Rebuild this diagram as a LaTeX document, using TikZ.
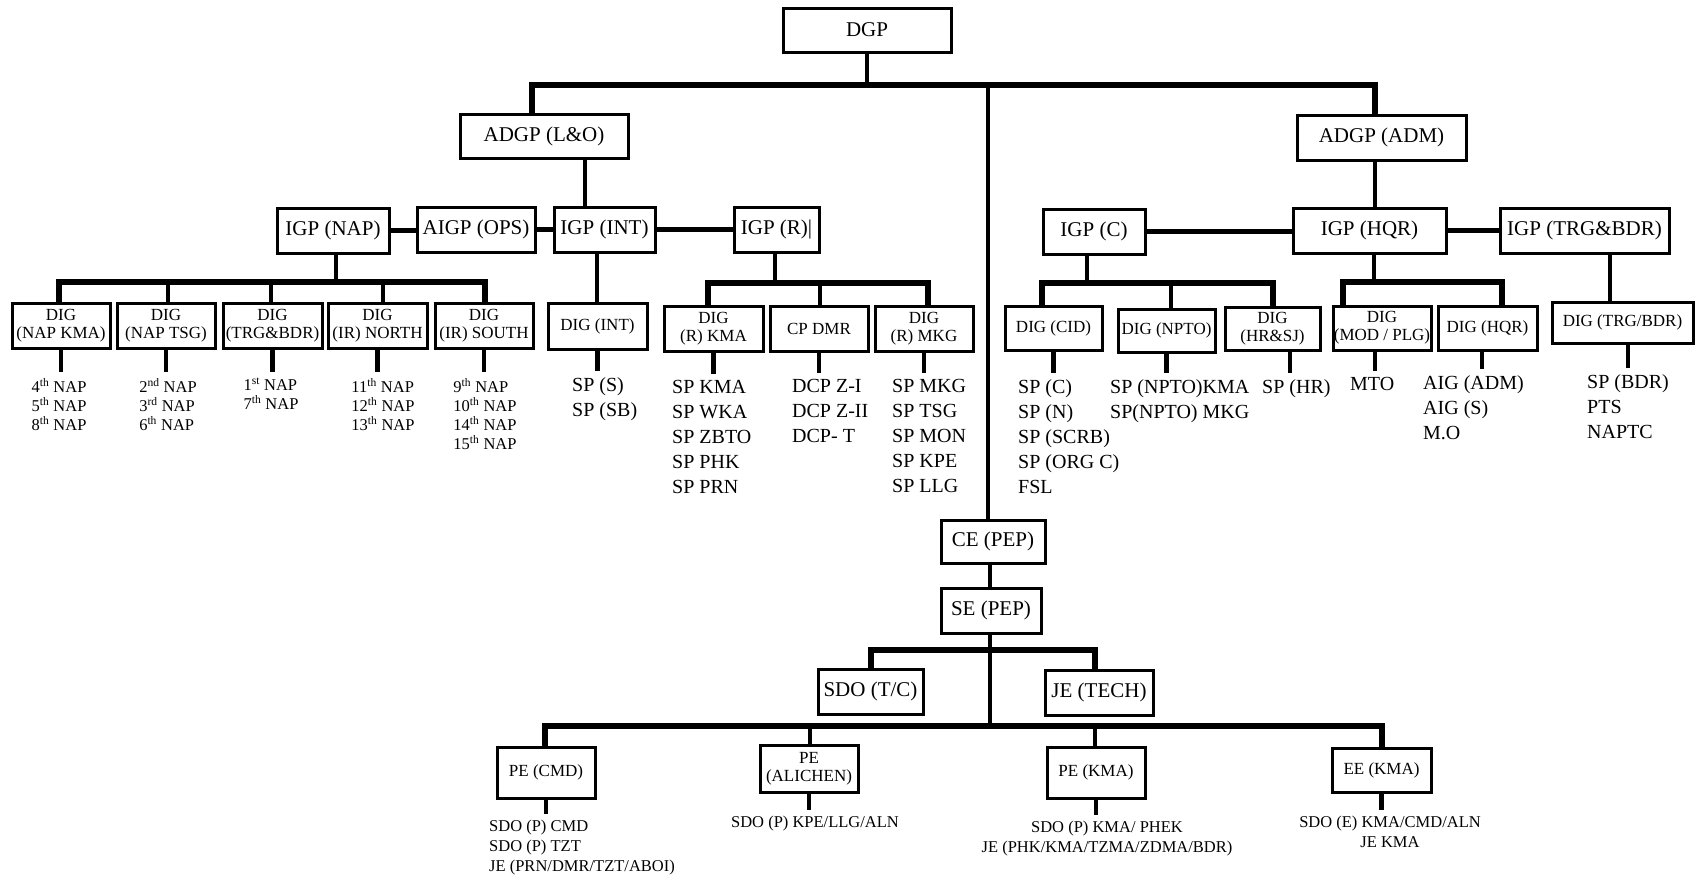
\documentclass[tikz,border=0pt]{standalone}
\usepackage{fontspec}
\setmainfont{Liberation Serif}
\usetikzlibrary{calc}
\tikzset{
 bx/.style={draw, line width=3pt, inner sep=0pt, align=center},
 bigf/.style={font=\fontsize{21}{25}\selectfont},
 digf/.style={font=\fontsize{17}{18}\selectfont},
 thinln/.style={line width=3.2pt},
 stubln/.style={line width=4.5pt},
 lowstub/.style={line width=4.5pt, shorten >=6pt},
 busln/.style={line width=5.5pt, line cap=rect},
 lst/.style={inner sep=0pt, align=left, anchor=north west, font=\fontsize{20}{25}\selectfont},
 naplst/.style={inner sep=0pt, align=left, anchor=north, font=\fontsize{16.5}{19}\selectfont},
 botlst/.style={inner sep=0pt, font=\fontsize{16.5}{20}\selectfont},
}
\newcommand{\mybox}[7]{\node[bx,#1, minimum width={(#4-#3)*1pt}, minimum height={(#6-#5)*1pt}] (#2) at ({(#3+#4)/2},{(#5+#6)/2}) {#7};}
\newcommand{\sups}[1]{\textsuperscript{#1}}
\begin{document}
\begin{tikzpicture}[x=1pt,y=-1pt]
\useasboundingbox (0,0) rectangle (1698,878);
% ---------- boxes: top levels
\mybox{bigf}{dgp}{783}{951}{8}{52}{DGP}
\mybox{bigf}{adgplo}{460}{628}{114}{158}{ADGP (L\&O)}
\mybox{bigf}{adgpadm}{1297}{1466}{115}{160}{ADGP (ADM)}
\mybox{bigf}{igpnap}{277}{389}{208}{253}{IGP (NAP)}
\mybox{bigf}{aigpops}{417}{535}{207}{252}{AIGP (OPS)}
\mybox{bigf}{igpint}{554}{655}{207}{252}{IGP (INT)}
\mybox{bigf}{igpr}{734}{819}{207}{252}{IGP (R)|}
\mybox{bigf}{igpc}{1043}{1145}{209}{254}{IGP (C)}
\mybox{bigf}{igphqr}{1293}{1446}{208}{253}{IGP (HQR)}
\mybox{bigf}{igptrg}{1500}{1669}{208}{253}{IGP (TRG\&BDR)}
% ---------- DIG row
\mybox{digf}{dnap1}{12}{110}{303}{348}{DIG\\(NAP KMA)}
\mybox{digf}{dnap2}{117}{215}{303}{348}{DIG\\(NAP TSG)}
\mybox{digf}{dnap3}{223}{322}{303}{348}{DIG\\(TRG\&BDR)}
\mybox{digf}{dnap4}{328}{427}{303}{348}{DIG\\(IR) NORTH}
\mybox{digf}{dnap5}{435}{533}{303}{348}{DIG\\(IR) SOUTH}
\mybox{digf}{digint}{548}{647}{303}{349}{DIG (INT)}
\mybox{digf}{digrkma}{664}{763}{306}{351}{DIG\\(R) KMA}
\mybox{digf}{cpdmr}{770}{868}{306}{351}{CP DMR}
\mybox{digf}{digrmkg}{875}{973}{306}{351}{DIG\\(R) MKG}
\mybox{digf}{digcid}{1005}{1102}{306}{350}{DIG (CID)}
\mybox{digf}{dignpto}{1118}{1215}{309}{352}{DIG (NPTO)}
\mybox{digf}{dighr}{1225}{1320}{307}{350}{DIG\\(HR\&SJ)}
\mybox{digf}{digmod}{1333}{1431}{306}{350}{DIG\\(MOD / PLG)}
\mybox{digf}{dighqr}{1438}{1537}{306}{350}{DIG (HQR)}
\mybox{digf}{digtrg}{1552}{1693}{302}{343}{DIG (TRG/BDR)}
% ---------- PEP branch
\mybox{bigf}{ce}{941}{1045}{520}{563}{CE (PEP)}
\mybox{bigf}{se}{941}{1041}{588}{633}{SE (PEP)}
\mybox{bigf}{sdotc}{818}{923}{669}{714}{SDO (T/C)}
\mybox{bigf}{jetech}{1045}{1153}{670}{715}{JE (TECH)}
\mybox{digf}{pecmd}{497}{595}{747}{798}{PE (CMD)}
\mybox{digf}{pealc}{760}{858}{745}{792}{PE\\(ALICHEN)}
\mybox{digf}{pekma}{1047}{1145}{747}{798}{PE (KMA)}
\mybox{digf}{eekma}{1332}{1431}{748}{792}{EE (KMA)}
% ---------- lists
\node[naplst] (l1) at (59,378) {4\sups{th} NAP\\5\sups{th} NAP\\8\sups{th} NAP};
\node[naplst] (l2) at (168,378) {2\sups{nd} NAP\\3\sups{rd} NAP\\6\sups{th} NAP};
\node[naplst] (l3) at (271,378) {1\sups{st} NAP\\7\sups{th} NAP};
\node[naplst] (l4) at (383,378) {11\sups{th} NAP\\12\sups{th} NAP\\13\sups{th} NAP};
\node[naplst] (l5) at (485,378) {9\sups{th} NAP\\10\sups{th} NAP\\14\sups{th} NAP\\15\sups{th} NAP};
\node[lst] (lint) at (572,377) {SP (S)\\SP (SB)};
\node[lst] (lrkma) at (672,380) {SP KMA\\SP WKA\\SP ZBTO\\SP PHK\\SP PRN};
\node[lst] (ldmr) at (792,379) {DCP Z-I\\DCP Z-II\\DCP- T};
\node[lst] (lmkg) at (892,379) {SP MKG\\SP TSG\\SP MON\\SP KPE\\SP LLG};
\node[lst] (lcid) at (1018,379) {SP (C)\\SP (N)\\SP (SCRB)\\SP (ORG C)\\FSL};
\node[lst] (lnpto) at (1110,379) {SP (NPTO)KMA\\SP(NPTO) MKG};
\node[lst] (lhr) at (1262,379) {SP (HR)};
\node[lst] (lmod) at (1350,377) {MTO};
\node[lst] (lhqr) at (1423,375) {AIG (ADM)\\AIG (S)\\M.O};
\node[lst] (ltrg) at (1587,374) {SP (BDR)\\PTS\\NAPTC};
\node[botlst, align=left, anchor=north west] (lcmd) at (489,820) {SDO (P) CMD\\SDO (P) TZT\\JE (PRN/DMR/TZT/ABOI)};
\node[botlst, anchor=north] (lalc) at (815,816) {SDO (P) KPE/LLG/ALN};
\node[botlst, align=center, anchor=north] (lpek) at (1107,821) {SDO (P) KMA/ PHEK\\JE (PHK/KMA/TZMA/ZDMA/BDR)};
\node[botlst, align=center, anchor=north] (lee) at (1390,816) {SDO (E) KMA/CMD/ALN\\JE KMA};
% ---------- connectors: top
\coordinate (tbL) at (532,85);
\coordinate (tbR) at (1375,85);
\coordinate (cc) at (988,85);
\coordinate (lo) at (585,0);
\draw[thinln] (dgp.south) -- (dgp.south |- tbL);
\draw[busln] (tbL |- adgplo.north) -- (tbL) -- (tbR) -- (tbR |- adgpadm.north);
\draw[thinln] (cc) -- (cc |- ce.north);
\draw[thinln] (lo |- adgplo.south) -- (lo |- igpint.north);
\draw[stubln] (tbR |- adgpadm.south) -- (tbR |- igphqr.north);
\draw[stubln] (igpnap.east) -- (igpnap.east -| aigpops.west);
\draw[stubln] (aigpops.east) -- (aigpops.east -| igpint.west);
\draw[busln, line cap=butt] (igpint.east) -- (igpint.east -| igpr.west);
\draw[stubln] (igpc.east) -- (igpc.east -| igphqr.west);
\draw[stubln] (igphqr.east) -- (igphqr.east -| igptrg.west);
% ---------- NAP bus
\coordinate (nbL) at (59,282);
\coordinate (nbR) at (485,282);
\coordinate (nbP) at (336,282);
\coordinate (nb2) at (168,282);
\coordinate (nb3) at (271,282);
\coordinate (nb4) at (383,282);
\draw[stubln] (nbP |- igpnap.south) -- (nbP);
\draw[busln] (nbL |- dnap1.north) -- (nbL) -- (nbR) -- (nbR |- dnap5.north);
\draw[stubln] (nb2) -- (nb2 |- dnap2.north);
\draw[stubln] (nb3) -- (nb3 |- dnap3.north);
\draw[stubln] (nb4) -- (nb4 |- dnap4.north);
\draw[lowstub] (dnap1.south) -- (dnap1.south |- l1.north);
\draw[lowstub] (dnap2.south) -- (dnap2.south |- l2.north);
\draw[lowstub] (dnap3.south) -- (dnap3.south |- l3.north);
\draw[lowstub] (dnap4.south) -- (dnap4.south |- l4.north);
\draw[lowstub] (dnap5.south) -- (dnap5.south |- l5.north);
% ---------- INT
\coordinate (ip) at (597,0);
\draw[thinln] (ip |- igpint.south) -- (ip |- digint.north);
\draw[lowstub] (digint.south) -- (digint.south |- lint.north);
% ---------- R bus
\coordinate (rbL) at (708,283);
\coordinate (rbR) at (928,283);
\coordinate (rbM) at (820,283);
\coordinate (rbP) at (775,283);
\draw[stubln] (rbP |- igpr.south) -- (rbP);
\draw[busln] (rbL |- digrkma.north) -- (rbL) -- (rbR) -- (rbR |- digrmkg.north);
\draw[stubln] (rbM) -- (rbM |- cpdmr.north);
\draw[lowstub] (digrkma.south) -- (digrkma.south |- lrkma.north);
\draw[lowstub] (cpdmr.south) -- (cpdmr.south |- ldmr.north);
\draw[lowstub] (digrmkg.south) -- (digrmkg.south |- lmkg.north);
% ---------- C bus
\coordinate (cbL) at (1042,283);
\coordinate (cbR) at (1273,283);
\coordinate (cbM) at (1171,283);
\coordinate (cbP) at (1087,283);
\coordinate (hrs) at (1290,0);
\draw[stubln] (cbP |- igpc.south) -- (cbP);
\draw[busln] (cbL |- digcid.north) -- (cbL) -- (cbR) -- (cbR |- dighr.north);
\draw[stubln] (cbM) -- (cbM |- dignpto.north);
\draw[lowstub] (digcid.south) -- (digcid.south |- lcid.north);
\draw[lowstub] (dignpto.south) -- (dignpto.south |- lnpto.north);
\draw[lowstub] (hrs |- dighr.south) -- (hrs |- lhr.north);
% ---------- HQR bus
\coordinate (hbL) at (1343,282);
\coordinate (hbR) at (1502,282);
\coordinate (hbP) at (1374,282);
\coordinate (mos) at (1375,0);
\coordinate (hqs) at (1482,0);
\draw[stubln] (hbP |- igphqr.south) -- (hbP);
\draw[busln] (hbL |- digmod.north) -- (hbL) -- (hbR) -- (hbR |- dighqr.north);
\draw[lowstub] (mos |- digmod.south) -- (mos |- lmod.north);
\draw[lowstub] (hqs |- dighqr.south) -- (hqs |- lhqr.north);
% ---------- TRG
\coordinate (tp) at (1610,0);
\coordinate (tps) at (1628,0);
\draw[stubln] (tp |- igptrg.south) -- (tp |- digtrg.north);
\draw[lowstub] (tps |- digtrg.south) -- (tps |- ltrg.north);
% ---------- PEP
\coordinate (sp) at (990,0);
\coordinate (ubL) at (871,650);
\coordinate (ubR) at (1095,650);
\coordinate (lb) at (990,726);
\coordinate (lbL) at (545,726);
\coordinate (lbR) at (1382,726);
\coordinate (lbM1) at (810,726);
\coordinate (lbM2) at (1095,726);
\draw[stubln] (sp |- ce.south) -- (sp |- se.north);
\draw[thinln] (sp |- se.south) -- (lb);
\draw[busln] (ubL |- sdotc.north) -- (ubL) -- (ubR) -- (ubR |- jetech.north);
\draw[busln] (lbL |- pecmd.north) -- (lbL) -- (lbR) -- (lbR |- eekma.north);
\draw[stubln] (lbM1) -- (lbM1 |- pealc.north);
\draw[stubln] (lbM2) -- (lbM2 |- pekma.north);
\draw[lowstub] (pecmd.south) -- (pecmd.south |- lcmd.north);
\draw[lowstub] (pealc.south) -- (pealc.south |- lalc.north);
\draw[lowstub] (pekma.south) -- (pekma.south |- lpek.north);
\draw[lowstub] (eekma.south) -- (eekma.south |- lee.north);
\end{tikzpicture}
\end{document}
